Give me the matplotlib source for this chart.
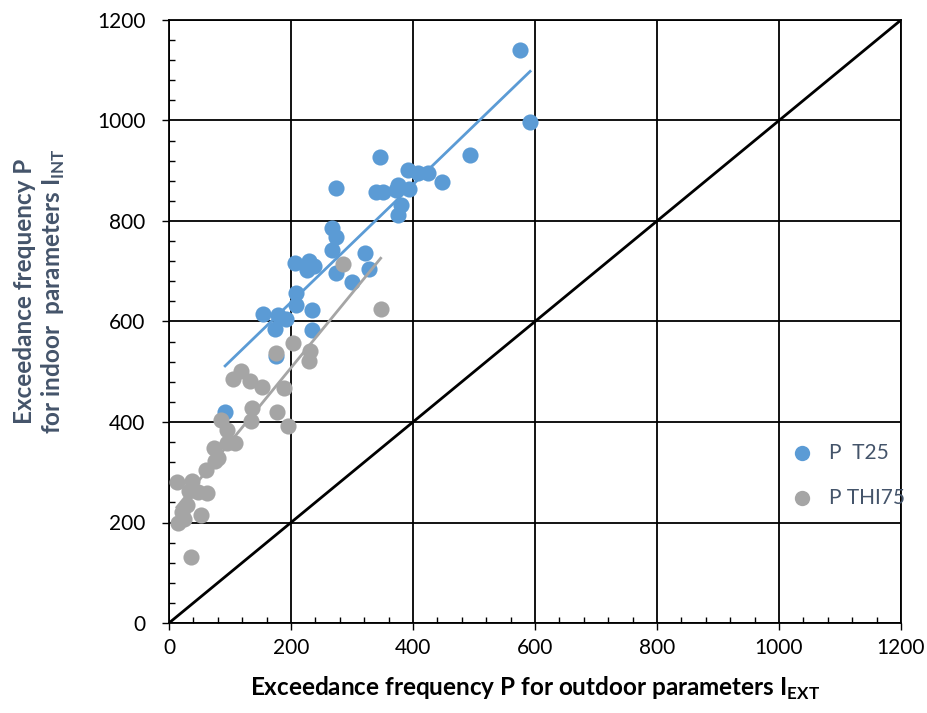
import numpy as np
import matplotlib.pyplot as plt
from matplotlib.ticker import MultipleLocator

plt.rcParams['font.family'] = ['Lato', 'DejaVu Sans']
plt.rcParams['mathtext.fontset'] = 'custom'
plt.rcParams['mathtext.bf'] = 'Lato:bold'
plt.rcParams['mathtext.rm'] = 'Lato'

# P T25 (blue)
t25_x = [575, 592, 493, 346, 391, 409, 425, 447, 273, 340, 350, 376, 372, 393,
         380, 375, 267, 273, 268, 322, 207, 230, 238, 227, 273, 328, 300, 209,
         209, 235, 154, 178, 191, 173, 235, 92, 175]
t25_y = [1140, 997, 932, 927, 901, 896, 895, 878, 865, 857, 858, 872, 862, 863,
         832, 812, 787, 768, 742, 736, 717, 721, 710, 702, 696, 704, 678, 656,
         632, 623, 615, 612, 605, 586, 583, 420, 531]

# P THI75 (grey)
thi_x = [286, 347, 204, 231, 230, 176, 118, 105, 132, 153, 189, 136, 177, 134,
         86, 195, 95, 108, 95, 74, 81, 76, 60, 13, 37, 32, 47, 63, 29, 21, 52,
         25, 14, 36]
thi_y = [714, 625, 557, 541, 522, 537, 502, 485, 481, 470, 467, 427, 420, 401,
         404, 392, 385, 358, 358, 348, 328, 323, 305, 280, 283, 263, 261, 258,
         234, 221, 214, 207, 200, 131]

blue = '#5B9BD5'
grey = '#A5A5A5'
label_col = '#44546A'

fig = plt.figure(figsize=(9.28, 7.13), dpi=100)
ax = fig.add_axes([169/928, 1 - 623/713, 732/928, 603/713])

ax.scatter(t25_x, t25_y, s=135, color=blue, zorder=3, label='P  T25', linewidths=0)
ax.scatter(thi_x, thi_y, s=135, color=grey, zorder=4, label='P THI75', linewidths=0)

# linear trendlines
for xs, ys, c in [(t25_x, t25_y, blue), (thi_x, thi_y, grey)]:
    k, b = np.polyfit(xs, ys, 1)
    xx = np.array([min(xs), max(xs)])
    ax.plot(xx, k * xx + b, color=c, lw=2, zorder=5)

ax.plot([0, 1200], [0, 1200], color='black', lw=2, zorder=2)

ax.set_xlim(0, 1200)
ax.set_ylim(0, 1200)
ax.xaxis.set_major_locator(MultipleLocator(200))
ax.yaxis.set_major_locator(MultipleLocator(200))
ax.xaxis.set_minor_locator(MultipleLocator(40))
ax.yaxis.set_minor_locator(MultipleLocator(40))
ax.grid(which='major', color='black', lw=1.3, zorder=1)
for s in ax.spines.values():
    s.set_color('black')
    s.set_linewidth(1.3)
ax.tick_params(which='major', direction='out', length=5, width=1, labelsize=15)
ax.tick_params(which='minor', direction='in', length=4, width=1)
ax.tick_params(axis='x', pad=6)
ax.tick_params(axis='y', pad=12)

ax.set_xlabel(r'Exceedance frequency P for outdoor parameters I$_{\mathbf{EXT}}$',
              fontsize=17.5, fontweight='bold', labelpad=12)
ax.set_ylabel('Exceedance frequency P\n' + r'for indoor  parameters I$_{\mathbf{INT}}$',
              fontsize=17.5, fontweight='bold', color=label_col)
ax.yaxis.set_label_coords(-0.139, 0.55)

leg = ax.legend(loc='center left', bbox_to_anchor=(0.811, 0.245), frameon=False,
                fontsize=15, labelspacing=1.2, handletextpad=0.3,
                markerscale=0.95)
for t in leg.get_texts():
    t.set_color(label_col)

fig.savefig('out.png', dpi=100)
